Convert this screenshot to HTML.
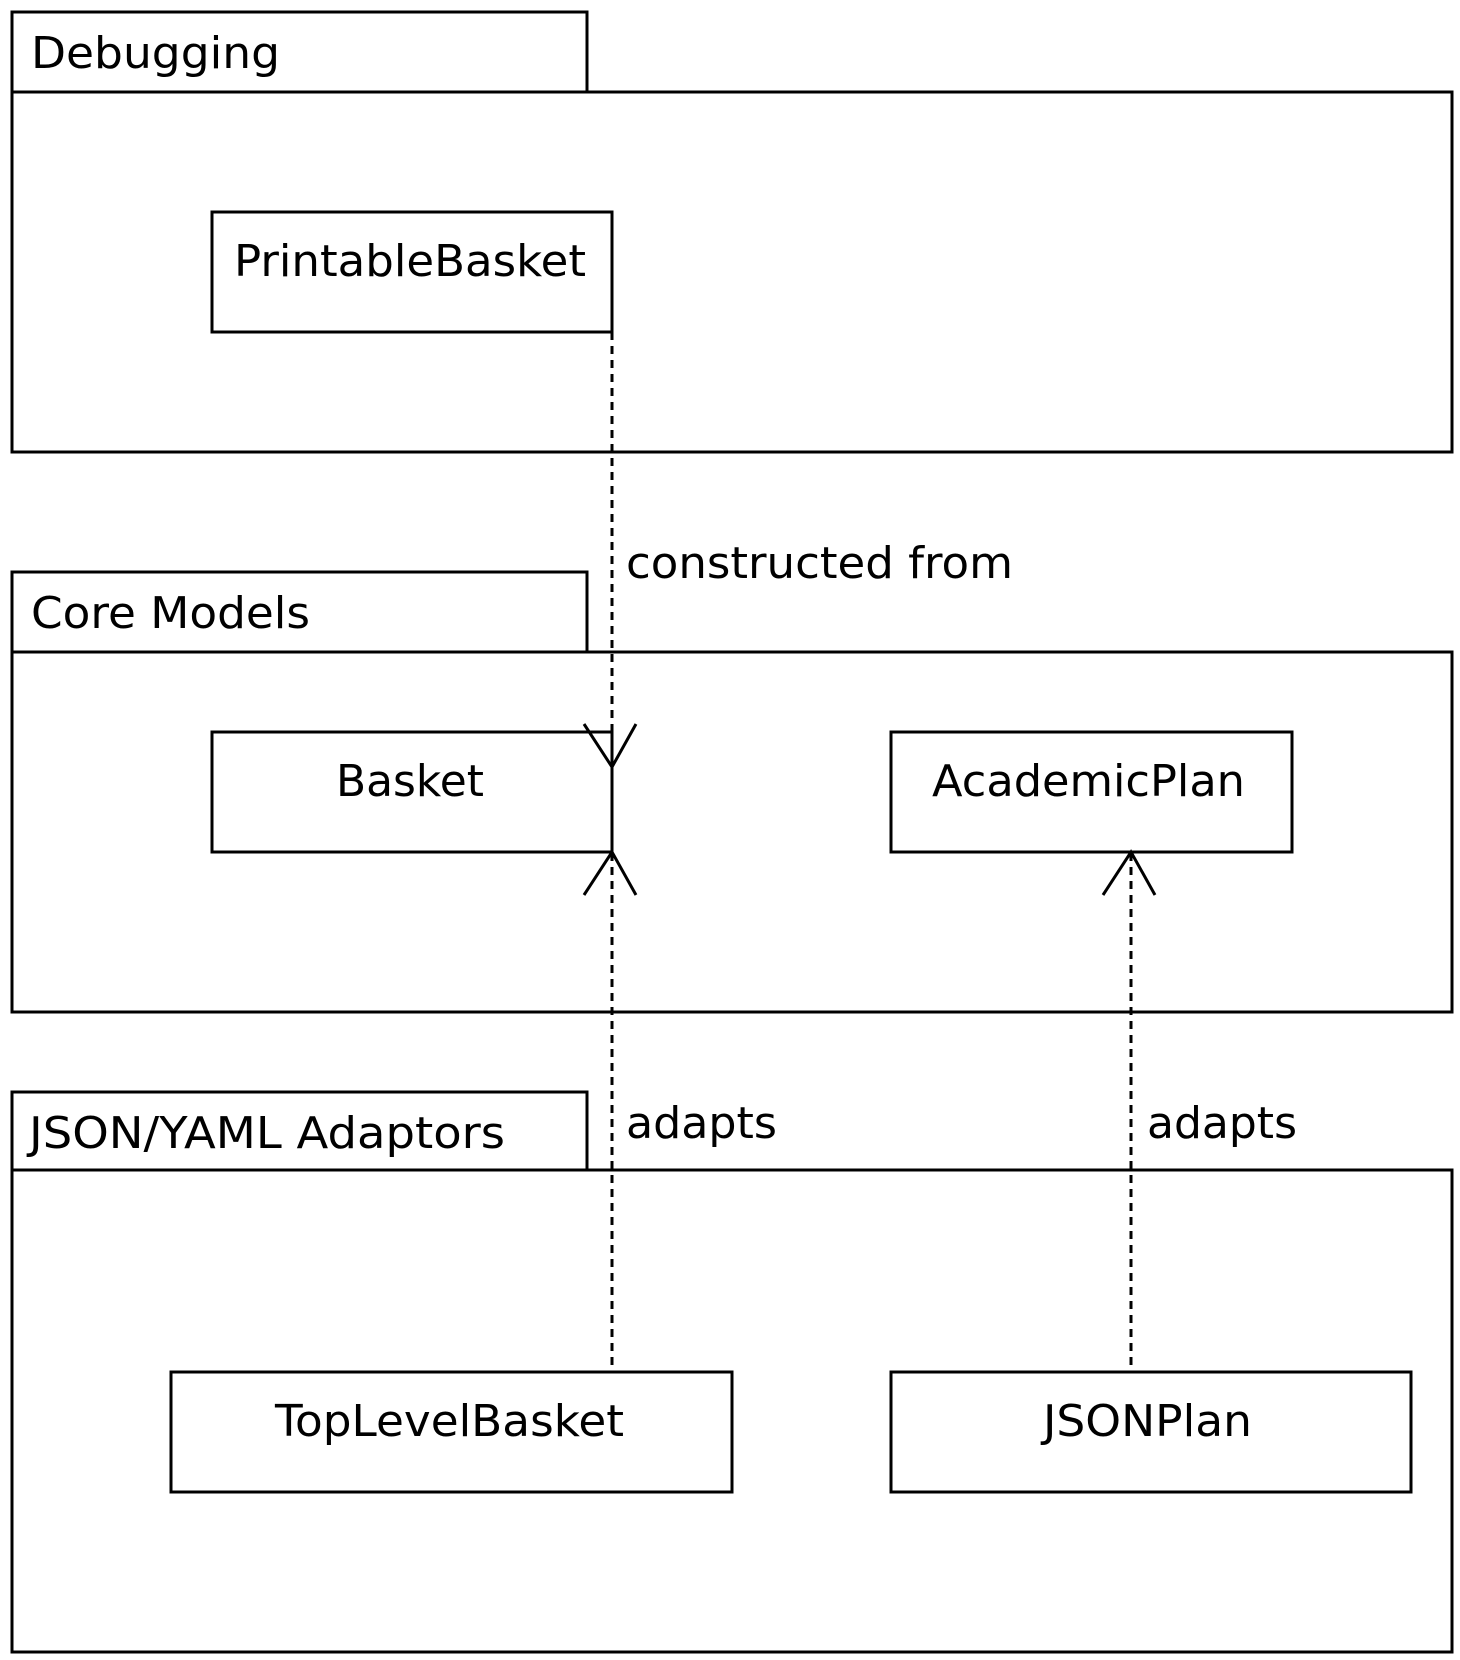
<!DOCTYPE html><html><head><style>body{margin:0;background:#fff}</style></head><body>
<svg width="1460" height="1660" xmlns="http://www.w3.org/2000/svg" style="display:block">
<g fill="none" stroke="#000" stroke-width="3">
<rect x="12" y="12" width="575" height="80"/>
<rect x="12" y="92" width="1440" height="360"/>
<rect x="212" y="212" width="400" height="120"/>
<rect x="12" y="572" width="575" height="80"/>
<rect x="12" y="652" width="1440" height="360"/>
<rect x="212" y="732" width="400" height="120"/>
<rect x="891" y="732" width="401" height="120"/>
<rect x="12" y="1092" width="575" height="78"/>
<rect x="12" y="1170" width="1440" height="482"/>
<rect x="171" y="1372" width="561" height="120"/>
<rect x="891" y="1372" width="520" height="120"/>
<g stroke-dasharray="8,6">
<line x1="612" y1="332" x2="612" y2="766"/>
<line x1="612" y1="853" x2="612" y2="1372"/>
<line x1="1131" y1="853" x2="1131" y2="1372"/>
</g>
<polyline points="584,724 612,767 636,724"/>
<polyline points="584,895 612,852 636,895"/>
<polyline points="1103,895 1131,852 1155,895"/>
</g>
<g font-family="DejaVu Sans, Liberation Sans, sans-serif" font-size="44" fill="#000" lengthAdjust="spacingAndGlyphs">
<text x="31" y="68" textLength="249" lengthAdjust="spacingAndGlyphs">Debugging</text>
<text x="31" y="628" textLength="279" lengthAdjust="spacingAndGlyphs">Core Models</text>
<text x="29" y="1148" textLength="476" lengthAdjust="spacingAndGlyphs">JSON/YAML Adaptors</text>
<text x="234" y="276" textLength="352" lengthAdjust="spacingAndGlyphs">PrintableBasket</text>
<text x="336" y="796" textLength="148" lengthAdjust="spacingAndGlyphs">Basket</text>
<text x="932" y="796" textLength="313" lengthAdjust="spacingAndGlyphs">AcademicPlan</text>
<text x="275" y="1436" textLength="349" lengthAdjust="spacingAndGlyphs">TopLevelBasket</text>
<text x="1043" y="1436" textLength="209" lengthAdjust="spacingAndGlyphs">JSONPlan</text>
<text x="626" y="578" textLength="387" lengthAdjust="spacingAndGlyphs">constructed from</text>
<text x="626" y="1138" textLength="151" lengthAdjust="spacingAndGlyphs">adapts</text>
<text x="1147" y="1138" textLength="150" lengthAdjust="spacingAndGlyphs">adapts</text>
</g>
</svg>
</body></html>
